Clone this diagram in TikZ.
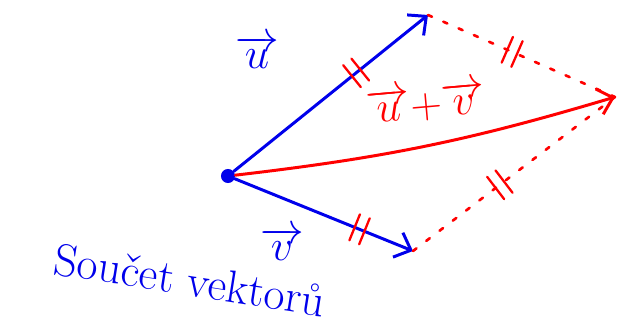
\documentclass[tikz,border=0pt]{standalone}
\usepackage{fontspec}
\usetikzlibrary{arrows.meta, decorations.markings}
\definecolor{penblue}{RGB}{0,0,235}
\definecolor{penred}{RGB}{255,0,0}

\begin{document}
\begin{tikzpicture}[x=0.02cm, y=-0.02cm,
      dot/.style={circle, fill=penblue, inner sep=0pt, minimum size=8pt},
      vec/.style={draw=penblue, line width=1.7pt, line cap=round,
                  -{Straight Barb[length=8pt, width=15pt, line width=1.7pt]}},
      sumvec/.style={draw=penred, line width=1.7pt, line cap=round,
                  -{Straight Barb[length=8pt, width=15pt, line width=1.7pt]}},
      side/.style={draw=penred, line width=1.5pt, line cap=round,
                  dash pattern=on 2.5pt off 7pt},
      ticks/.style={postaction={decorate, decoration={markings,
                  mark=at position #1 with {\draw[penred, -, line width=1.3pt, solid, line cap=round]
                  (-3pt,-8pt) -- (-3pt,8pt) (3pt,-8pt) -- (3pt,8pt);}}}},
      lbl/.style={font=\fontsize{24}{28}\selectfont, inner sep=0pt}
    ]
    \useasboundingbox (0,0) rectangle (619,328);
    % points of the parallelogram
    \node[dot] (o) at (228,176) {};
    \coordinate (u) at (428,15);
    \coordinate (v) at (413,251);
    \coordinate (s) at (615,97);
    % the two vectors and their sum
    \draw[vec, ticks=0.63] (o) -- (u);
    \draw[vec, ticks=0.70] (o) -- (v);
    \draw[side, ticks=0.45] (u) -- (s);
    \draw[side, ticks=0.43] (v) -- (s);
    \draw[sumvec] (o) to[bend right=5] (s);
    % labels
    \node[lbl, text=penblue] (lu) at (257,52) {$\overrightarrow{u}$};
    \node[lbl, text=penblue] (lv) at (282,244) {$\overrightarrow{v}$};
    \node[lbl, text=penred, rotate=5] (ls) at (426,103) {$\overrightarrow{u}{+}\overrightarrow{v}$};
    \node[lbl, text=penblue, rotate=-9, font=\fontsize{26}{30}\selectfont] (title) at (190,280) {Součet vektorů};
  \end{tikzpicture}
\end{document}
